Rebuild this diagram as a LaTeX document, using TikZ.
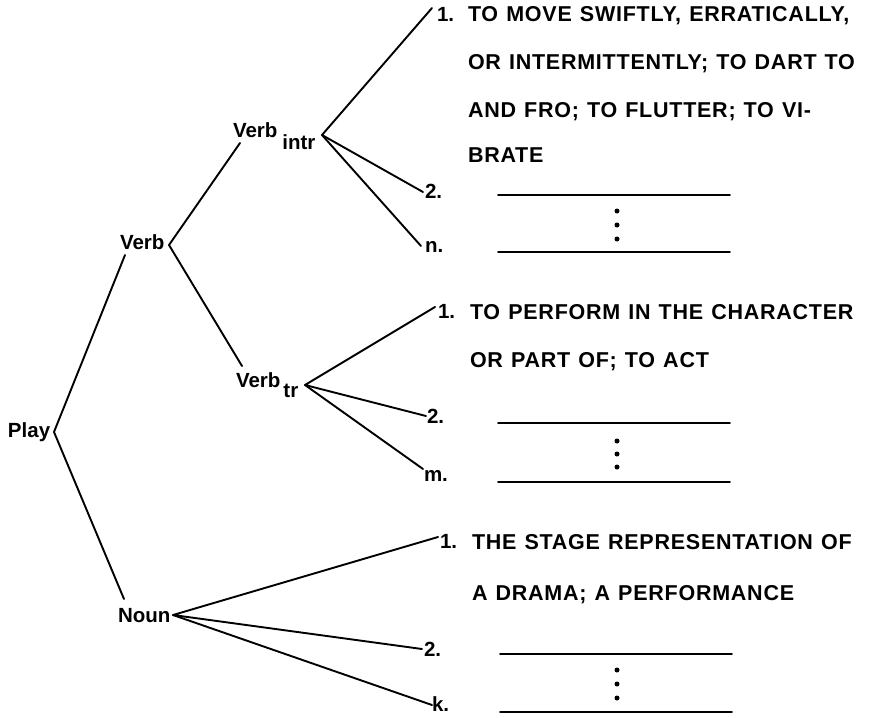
\documentclass[tikz,border=0pt]{standalone}
\usepackage{fontspec}
\setmainfont{Liberation Sans}
\newfontfamily\lett[LetterSpace=3.5,WordSpace=1.2]{Liberation Sans Bold}
\newfontfamily\lbf{Liberation Sans Bold}
\begin{document}
\begin{tikzpicture}[x=1pt,y=-1pt, line width=1.9pt, line cap=round, line join=round,
  lbl/.style={inner sep=0pt, outer sep=0pt, anchor=base west, font=\lbf\fontsize{20.5}{24}\selectfont},
  gloss/.style={lbl, font=\lett\fontsize{21.5}{24}\selectfont},
  rulel/.style={line width=1.6pt},
  dotm/.style={circle, fill, inner sep=0pt, minimum size=5pt}]
\useasboundingbox (0,0) rectangle (872,717);
% --- tree labels
\node[lbl] (play) at (8,437) {Play};
\coordinate (playJ) at (54,432);
\node[lbl] (verb) at (120,249) {Verb};
\coordinate (verbIn) at (125,255);
\coordinate (verbJ) at (169,245);
\node[lbl] (noun) at (118,622) {Noun};
\coordinate (nounIn) at (124,599);
\coordinate (nounJ) at (173,615);
\node[lbl] (vintr) at (233,137) {Verb\hspace{5pt}\raisebox{-12pt}{intr}};
\coordinate (intrIn) at (240,143);
\coordinate (intrJ) at (322,135);
\node[lbl] (vtr) at (236,387) {Verb\hspace{3pt}\raisebox{-10pt}{tr}};
\coordinate (trIn) at (242,366);
\coordinate (trJ) at (305,385);
% --- sense numbers
\node[lbl] (in1) at (437,22) {1.};
\coordinate (in1e) at (432,8);
\node[lbl] (in2) at (425,198) {2.};
\coordinate (in2e) at (423,192);
\node[lbl] (inn) at (425,252) {n.};
\coordinate (inne) at (421,246);
\node[lbl] (tr1) at (438,318) {1.};
\coordinate (tr1e) at (435,307);
\node[lbl] (tr2) at (427,423) {2.};
\coordinate (tr2e) at (426,416);
\node[lbl] (trm) at (424,481) {m.};
\coordinate (trme) at (423,469);
\node[lbl] (no1) at (440,548) {1.};
\coordinate (no1e) at (438,537);
\node[lbl] (no2) at (424,656) {2.};
\coordinate (no2e) at (422,649);
\node[lbl] (nok) at (432,711) {k.};
\coordinate (noke) at (432,705);
% --- connectors
\draw (verbIn) -- (playJ) -- (nounIn);
\draw (intrIn) -- (verbJ) -- (trIn);
\draw (in1e) -- (intrJ) -- (in2e);
\draw (intrJ) -- (inne);
\draw (tr1e) -- (trJ) -- (tr2e);
\draw (trJ) -- (trme);
\draw (no1e) -- (nounJ) -- (no2e);
\draw (nounJ) -- (noke);
% --- glosses
\node[gloss] (g11) at (468,22) {TO MOVE SWIFTLY, ERRATICALLY,};
\node[gloss] (g12) at (468,70) {OR INTERMITTENTLY; TO DART TO};
\node[gloss] (g13) at (468,117) {AND FRO; TO FLUTTER; TO VI-};
\node[gloss] (g14) at (468,162) {BRATE};
\node[gloss] (g21) at (470,319) {TO PERFORM IN THE CHARACTER};
\node[gloss] (g22) at (470,367) {OR PART OF; TO ACT};
\node[gloss] (g31) at (472,549) {THE STAGE REPRESENTATION OF};
\node[gloss] (g32) at (472,600) {A DRAMA; A PERFORMANCE};
% --- blank rules and ellipsis dots
\coordinate (a1l) at (498,195); \coordinate (a1r) at (730,195);
\coordinate (a2l) at (498,252); \coordinate (a2r) at (730,252);
\coordinate (b1l) at (498,423); \coordinate (b1r) at (730,423);
\coordinate (b2l) at (498,482); \coordinate (b2r) at (730,482);
\coordinate (c1l) at (500,654); \coordinate (c1r) at (732,654);
\coordinate (c2l) at (500,712); \coordinate (c2r) at (732,712);
\draw[rulel] (a1l) -- (a1r); \draw[rulel] (a2l) -- (a2r);
\draw[rulel] (b1l) -- (b1r); \draw[rulel] (b2l) -- (b2r);
\draw[rulel] (c1l) -- (c1r); \draw[rulel] (c2l) -- (c2r);
\node[dotm] (da1) at (617,211) {};
\node[dotm] (da2) at (617,225) {};
\node[dotm] (da3) at (617,239) {};
\node[dotm] (db1) at (617,441) {};
\node[dotm] (db2) at (617,454) {};
\node[dotm] (db3) at (617,467) {};
\node[dotm] (dc1) at (617,670) {};
\node[dotm] (dc2) at (617,684) {};
\node[dotm] (dc3) at (617,698) {};
\end{tikzpicture}
\end{document}
